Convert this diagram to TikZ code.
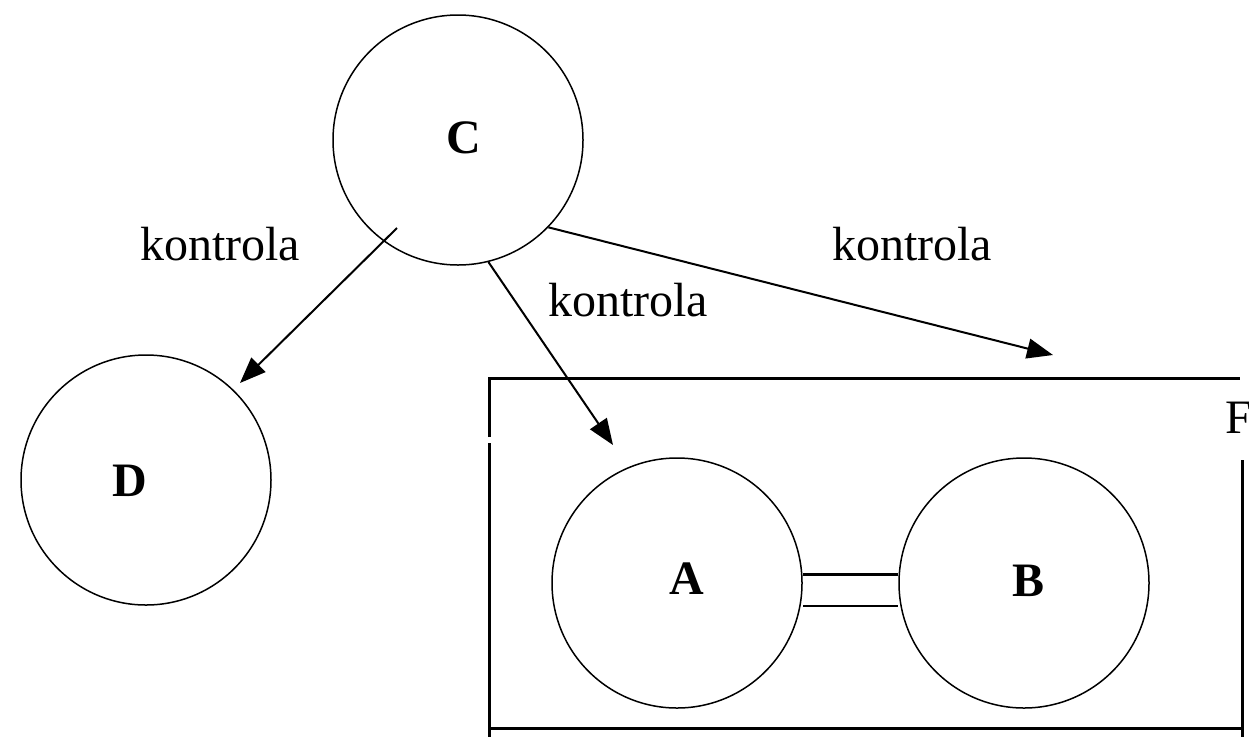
\documentclass[tikz,border=0pt]{standalone}
\usepackage{fontspec}
\setmainfont{Liberation Serif}
\usetikzlibrary{arrows.meta}
\begin{document}
\begin{tikzpicture}[x=1pt,y=-1pt,
  ball/.style={draw, circle, line width=1.5pt, minimum size=250pt, inner sep=0pt},
  letter/.style={anchor=base, inner sep=0pt, font=\fontsize{48}{50}\selectfont\bfseries},
  lbl/.style={anchor=base west, inner sep=0pt, font=\fontsize{48}{50}\selectfont},
  arr/.style={line width=2pt, -{Triangle[length=26pt,width=20pt]}},
  frame/.style={line width=3pt}]
\clip (0,0) rectangle (1249,737);
\fill[white] (0,0) rectangle (1249,737);
% circles
\node[ball] (C) at (458,140) {};
\node[ball] (D) at (146,480) {};
\node[ball] (A) at (677,583) {};
\node[ball] (B) at (1024,583) {};
% letters
\node[letter] (tC) at (464,153) {C};
\node[letter] (tD) at (130,496) {D};
\node[letter] (tA) at (687,594) {A};
\node[letter] (tB) at (1028,596) {B};
% frame F
\draw[frame] (489,437) -- (489,378) -- (1240,378);
\draw[frame] (489,443) -- (489,737);
\draw[frame] (489,728) -- (1242,728);
\draw[frame] (1242,460) -- (1242,737);
\node[anchor=base west, inner sep=0pt, font=\fontsize{48}{50}\selectfont] (tF) at (1225,433) {F};
% A-B link
\draw[line width=2.5pt, double, double distance=29pt] ([yshift=-7pt]A.east) -- ([yshift=-7pt]B.west);
% arrows
\coordinate (pD) at (240,383);
\coordinate (pA) at (613,445);
\coordinate (pF) at (1053,355);
\coordinate (sD) at (397,228);
\draw[arr] (sD) -- (pD);
\draw[arr] (C.-76) -- (pA);
\draw[arr] (C.-44) -- (pF);
% labels
\node[lbl] (k1) at (140,260) {kontrola};
\node[lbl] (k2) at (548,316) {kontrola};
\node[lbl] (k3) at (832,260) {kontrola};
\end{tikzpicture}
\end{document}
